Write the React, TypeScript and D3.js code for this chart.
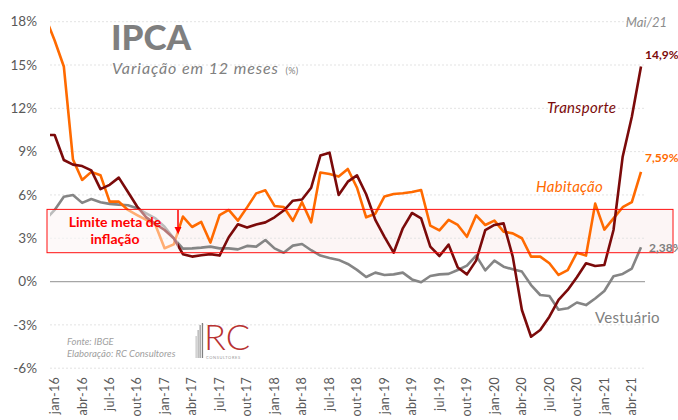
import React, { useRef, useEffect } from 'react';
import * as d3 from 'd3';

document.body.style.margin = '0';

const monthNames = ['jan', 'fev', 'mar', 'abr', 'mai', 'jun', 'jul', 'ago', 'set', 'out', 'nov', 'dez'];

// dez-15 ... mai-21 (dez-15 fica cortado pela área do gráfico)
const months: string[] = [];
for (let yy = 15; yy <= 21; yy++) {
  for (let m = 0; m < 12; m++) {
    if (yy === 15 && m < 11) continue;
    if (yy === 21 && m > 4) continue;
    months.push(`${monthNames[m]}-${yy}`);
  }
}

const tickLabels = [
  'jan-16', 'abr-16', 'jul-16', 'out-16', 'jan-17', 'abr-17', 'jul-17', 'out-17',
  'jan-18', 'abr-18', 'jul-18', 'out-18', 'jan-19', 'abr-19', 'jul-19', 'out-19',
  'jan-20', 'abr-20', 'jul-20', 'out-20', 'jan-21', 'abr-21',
];

const transporte = [
  10.16, 10.15, 8.42, 8.1, 8.0, 7.7, 6.4, 6.7, 7.2, 6.2, 5.2, 4.45, 4.0,
  3.57, 3.0, 1.9, 1.73, 1.82, 1.9, 1.8, 3.07, 3.97, 3.74, 3.95, 4.1, 4.45,
  4.92, 5.6, 5.68, 6.5, 8.73, 8.93, 6.0, 6.92, 7.36, 6.05, 4.27, 3.1, 2.0,
  3.69, 4.75, 4.38, 2.42, 1.77, 2.56, 0.97, 0.5, 1.45, 3.57, 3.92, 4.03, 1.73,
  -1.97, -3.82, -3.35, -2.43, -1.27, -0.58, 0.3, 1.27, 1.08, 1.15, 3.57, 8.65, 11.42, 14.9,
];

const habitacao = [
  18.3, 16.7, 14.9, 8.45, 7.04, 7.6, 7.37, 5.54, 5.54, 4.96, 4.61, 4.27, 3.92,
  2.31, 2.58, 4.5, 3.78, 4.13, 2.7, 4.6, 4.96, 4.22, 5.14, 6.11, 6.32, 5.24,
  5.17, 4.21, 5.5, 4.1, 7.55, 7.45, 7.27, 7.8, 6.5, 4.45, 4.7, 5.9, 6.07,
  6.12, 6.2, 6.34, 3.88, 3.55, 4.27, 3.92, 3.1, 4.58, 3.92, 4.22, 3.46, 3.34,
  3.0, 1.73, 1.73, 1.27, 0.46, 0.8, 2.0, 1.8, 5.4, 3.6, 4.38, 5.15, 5.5, 7.59,
];

const vestuario = [
  4.3, 4.96, 5.88, 6.0, 5.45, 5.72, 5.5, 5.38, 5.33, 5.29, 5.08, 4.73, 4.38,
  3.8, 3.0, 2.28, 2.3, 2.35, 2.42, 2.3, 2.3, 2.23, 2.47, 2.42, 2.88, 2.3,
  2.0, 2.49, 2.6, 2.17, 1.8, 1.64, 1.5, 1.22, 0.81, 0.32, 0.62, 0.46, 0.5,
  0.62, 0.15, -0.05, 0.39, 0.5, 0.53, 0.8, 1.1, 1.8, 0.78, 1.45, 1.03, 0.85,
  0.69, -0.24, -0.93, -1.0, -1.95, -1.85, -1.45, -1.63, -1.17, -0.65, 0.37, 0.53, 0.9, 2.38,
];

const yTicks = [-6, -3, 0, 3, 6, 9, 12, 15, 18];
const metaMin = 2;
const metaMax = 5;

const font = 'Lato, "Noto Sans", sans-serif';
const cTransporte = '#7b0a0a';
const cHabitacao = '#ff6a00';
const cVestuario = '#858585';

const App = () => {
  const svgRef = useRef<SVGSVGElement>(null);

  useEffect(() => {
    const svg = d3.select(svgRef.current);
    const width = 678;
    const height = 420;
    svg.attr('width', width).attr('height', height);
    svg.selectAll('*').remove();

    const plotLeft = 50;
    const plotRight = 645;

    const x = d3.scaleLinear().domain([0, months.length - 1]).range([45.5, 641]);
    const y = d3.scaleLinear().domain([-6, 18]).range([368.2, 21.7]);

    svg.append('defs').append('clipPath').attr('id', 'plotclip')
      .append('rect').attr('x', plotLeft).attr('y', 0).attr('width', width - plotLeft).attr('height', height);

    // faixa da meta
    svg.append('rect')
      .attr('x', 47).attr('y', y(metaMax))
      .attr('width', 673 - 47).attr('height', y(metaMin) - y(metaMax))
      .attr('fill', '#fcf5f5');

    // grade
    svg.append('g').selectAll('line')
      .data(yTicks.filter(d => d !== 0))
      .join('line')
      .attr('x1', plotLeft).attr('x2', plotRight)
      .attr('y1', d => y(d)).attr('y2', d => y(d))
      .attr('stroke', '#e3e3e3').attr('stroke-dasharray', '2,2');

    svg.append('line')
      .attr('x1', plotLeft).attr('x2', plotRight)
      .attr('y1', y(0)).attr('y2', y(0))
      .attr('stroke', '#a6a6a6').attr('stroke-width', 1.2);

    // eixo y
    svg.append('g').selectAll('text')
      .data(yTicks)
      .join('text')
      .attr('x', 37).attr('y', d => y(d))
      .attr('dy', '0.35em')
      .attr('text-anchor', 'end')
      .style('font-family', font).style('font-size', '13.5px')
      .attr('fill', '#595959')
      .text(d => `${d}%`);

    // eixo x
    svg.append('g').selectAll('text')
      .data(tickLabels)
      .join('text')
      .attr('transform', d => `translate(${x(months.indexOf(d))},377) rotate(-90)`)
      .attr('dy', '0.35em')
      .attr('text-anchor', 'end')
      .style('font-family', font).style('font-size', '12.5px')
      .style('letter-spacing', '0.3px')
      .attr('fill', '#595959')
      .text(d => d);

    const line = d3.line<number>()
      .x((d, i) => x(i))
      .y(d => y(d));

    const lines = svg.append('g').attr('clip-path', 'url(#plotclip)');
    [[vestuario, cVestuario], [habitacao, cHabitacao], [transporte, cTransporte]].forEach(([vals, color]) => {
      lines.append('path')
        .datum(vals as number[])
        .attr('fill', 'none')
        .attr('stroke', color as string)
        .attr('stroke-width', 2.6)
        .attr('stroke-linejoin', 'round')
        .attr('d', line);
    });

    // caixa de texto semitransparente
    svg.append('rect')
      .attr('x', 47).attr('y', y(metaMax))
      .attr('width', 178 - 47).attr('height', y(metaMin) - y(metaMax))
      .attr('fill', '#ffffff').attr('opacity', 0.45);

    svg.append('rect')
      .attr('x', 47).attr('y', y(metaMax))
      .attr('width', 673 - 47).attr('height', y(metaMin) - y(metaMax))
      .attr('fill', 'none').attr('stroke', '#ff1010').attr('stroke-width', 1);

    const meta = svg.append('text')
      .attr('text-anchor', 'middle')
      .style('font-family', font).style('font-size', '14px').style('font-weight', 'bold')
      .attr('fill', '#ff0000');
    meta.append('tspan').attr('x', 115).attr('y', 227).text('Limite meta de');
    meta.append('tspan').attr('x', 115).attr('y', 244).text('inflação');

    svg.append('line')
      .attr('x1', 178).attr('x2', 178).attr('y1', 210).attr('y2', 228)
      .attr('stroke', '#ff0000').attr('stroke-width', 1.5);
    svg.append('path')
      .attr('d', 'M174.5,227 L181.5,227 L178,234 Z')
      .attr('fill', '#ff0000');

    // títulos
    svg.append('text')
      .attr('x', 111).attr('y', 50)
      .style('font-family', font).style('font-size', '35px').style('font-weight', 900)
      .attr('fill', '#7f7f7f')
      .text('IPCA');

    const sub = svg.append('text')
      .attr('x', 112).attr('y', 74)
      .style('font-family', font).style('font-size', '16px').style('font-style', 'italic')
      .style('letter-spacing', '0.9px')
      .attr('fill', '#808080');
    sub.append('tspan').text('Variação em 12 meses ');
    sub.append('tspan').style('font-size', '9px').style('font-style', 'normal').style('letter-spacing', '0.3px').attr('dx', 2).text('(%)');

    svg.append('text')
      .attr('x', 667).attr('y', 27)
      .attr('text-anchor', 'end')
      .style('font-family', font).style('font-size', '13px').style('font-style', 'italic')
      .attr('fill', '#8c8c8c')
      .text('Mai/21');

    // rótulos das séries
    const last = months.length - 1;
    const endLabel = (txt, color, yy, xx = 645) => svg.append('text')
      .attr('x', xx).attr('y', yy)
      .style('font-family', font).style('font-size', '12px').style('font-weight', 'bold')
      .attr('fill', color)
      .text(txt);
    endLabel('14,9%', cTransporte, y(transporte[last]) - 7);
    endLabel('7,59%', cHabitacao, y(habitacao[last]) - 10);
    endLabel('2,38%', '#808080', y(vestuario[last]) + 5, 649);

    const seriesLabel = (txt, color, xx, yy, italic = true) => svg.append('text')
      .attr('x', xx).attr('y', yy)
      .style('font-family', font).style('font-size', '15px')
      .style('font-style', italic ? 'italic' : 'normal')
      .style('letter-spacing', '0.3px')
      .attr('fill', color)
      .text(txt);
    seriesLabel('Transporte', cTransporte, 547, 113);
    seriesLabel('Habitação', cHabitacao, 536, 192);
    seriesLabel('Vestuário', '#808080', 595, 323, false);

    // fonte
    const fonte = svg.append('text')
      .style('font-family', font).style('font-size', '9.5px').style('font-style', 'italic')
      .attr('fill', '#a0a0a0');
    fonte.append('tspan').attr('x', 67).attr('y', 345).text('Fonte: IBGE');
    fonte.append('tspan').attr('x', 67).attr('y', 357).text('Elaboração: RC Consultores');

    // logo RC
    const logo = svg.append('g');
    [[195.5, 336, '#c8c8c8'], [197.5, 330, '#b0b0b0'], [199.5, 325, '#999999'], [201.8, 323, '#808080']].forEach(([bx, by, bc]) => {
      logo.append('rect')
        .attr('x', bx as number).attr('y', by as number)
        .attr('width', 1.3).attr('height', 358 - (by as number))
        .attr('fill', bc as string);
    });
    logo.append('text')
      .attr('x', 204).attr('y', 350)
      .style('font-family', font).style('font-size', '36px').style('font-weight', 300)
      .attr('fill', '#b83232')
      .text('RC');
    logo.append('text')
      .attr('x', 206).attr('y', 359)
      .style('font-family', font).style('font-size', '4px')
      .style('letter-spacing', '0.6px')
      .attr('fill', '#999999')
      .text('CONSULTORES');
  }, []);

  return (
    <div style={{ position: 'relative' }}>
      <svg ref={svgRef}></svg>
    </div>
  );
};

export default App;
